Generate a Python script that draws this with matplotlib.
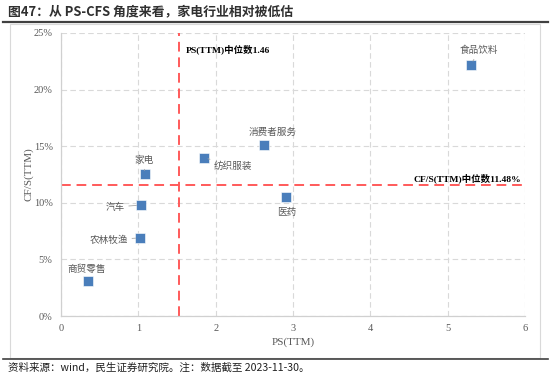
import matplotlib
matplotlib.use("Agg")
import matplotlib.pyplot as plt
from matplotlib.lines import Line2D
from matplotlib.patches import Rectangle

plt.rcParams['font.family'] = ['Noto Sans CJK SC', 'DejaVu Sans']

industries = ["商贸零售", "农林牧渔", "汽车", "家电", "纺织服装", "消费者服务", "医药", "食品饮料"]
ps_ttm = [0.35, 1.02, 1.03, 1.08, 1.85, 2.62, 2.91, 5.30]
cfs_ttm = [3.1, 6.9, 9.8, 12.5, 14.0, 15.1, 10.5, 22.2]
ps_median = 1.52
cfs_median = 11.6
ps_median_label = "PS(TTM)中位数1.46"
cfs_median_label = "CF/S(TTM)中位数11.48%"
x_ticks = [0, 1, 2, 3, 4, 5, 6]
y_ticks = [0, 5, 10, 15, 20, 25]
title = "图47：从 PS-CFS 角度来看，家电行业相对被低估"
source = "资料来源：wind，民生证券研究院。注：数据截至 2023-11-30。"

PX = 0.72  # points per pixel
# label offsets in pixels (dx, dy up), alignment, leader line
label_cfg = {
    "商贸零售": ((-1, 12), 'center', False),
    "农林牧渔": ((-12, -2), 'right', True),
    "汽车": ((-16, -2), 'right', True),
    "家电": ((0, 14), 'center', True),
    "纺织服装": ((10, -9), 'left', True),
    "消费者服务": ((9, 13), 'center', False),
    "医药": ((1, -15), 'center', False),
    "食品饮料": ((8, 14), 'center', True),
}

fig = plt.figure(figsize=(5.5, 3.77), dpi=100)
W, H = 550, 377

# frame & lines
fig.add_artist(Rectangle((10 / W, 1 - 358 / H), 530 / W, 334 / H, transform=fig.transFigure,
                         fill=False, edgecolor='#d9d9d9', lw=0.8))
fig.add_artist(Line2D([3 / W, 548 / W], [1 - 22 / H, 1 - 22 / H], transform=fig.transFigure,
                      color='#404040', lw=1.6))
fig.add_artist(Line2D([3 / W, 548 / W], [1 - 359 / H, 1 - 359 / H], transform=fig.transFigure,
                      color='#404040', lw=1.2))
fig.text(8 / W, 1 - 11 / H, title, fontsize=9.3, fontweight='bold', color='#303030', va='center')
fig.text(8 / W, 1 - 368 / H, source, fontsize=7.6, color='#202020', va='center')

ax = fig.add_axes([61 / W, 1 - 316 / H, 464 / W, 283 / H])
ax.set_xlim(0, 6)
ax.set_ylim(0, 25)
ax.set_xticks(x_ticks)
ax.set_yticks(y_ticks)
ax.set_xticklabels([str(v) for v in x_ticks])
ax.set_yticklabels([f"{v}%" for v in y_ticks])
serif = ['Liberation Serif', 'DejaVu Serif']
for lab in ax.get_xticklabels() + ax.get_yticklabels():
    lab.set_fontfamily(serif)
    lab.set_fontsize(7.5)
    lab.set_color('#595959')
ax.tick_params(length=0, pad=6)
ax.grid(True, color='#d9d9d9', linestyle=(0, (5, 3)), lw=0.8)
ax.set_axisbelow(True)
for s in ['top', 'right']:
    ax.spines[s].set_visible(False)
for s in ['left', 'bottom']:
    ax.spines[s].set_color('#d0d0d0')
    ax.spines[s].set_linewidth(0.9)
ax.set_xlabel("PS(TTM)", fontfamily=serif, fontsize=8, color='#595959', labelpad=3)
ax.set_ylabel("CF/S(TTM)", fontfamily=serif, fontsize=8, color='#595959', labelpad=0)

ax.axvline(ps_median, color='#ff5a5a', lw=1.4, linestyle=(0, (5, 3)), zorder=2)
ax.axhline(cfs_median, color='#ff5a5a', lw=1.4, linestyle=(0, (5, 3)), zorder=2)

ax.scatter(ps_ttm, cfs_ttm, marker='s', s=42, color='#4a7ebb', edgecolor='white', lw=0.4, zorder=4)

for name, x, y in zip(industries, ps_ttm, cfs_ttm):
    (dx, dy), ha, leader = label_cfg[name]
    ax.annotate(name, (x, y), xytext=(dx * PX, dy * PX), textcoords='offset points', ha=ha, va='center',
                fontsize=6.9, color='#595959', zorder=5,
                arrowprops=dict(arrowstyle='-', color='#a6a6a6', lw=0.6, shrinkA=1, shrinkB=3) if leader else None)

ax.text(ps_median + 0.09, 23.6, ps_median_label, fontsize=6.8, fontweight='bold', color='black',
        family=['Liberation Serif', 'Noto Sans CJK SC'], va='center', ha='left')
ax.text(5.95, 12.2, cfs_median_label, fontsize=6.8, fontweight='bold', color='black',
        family=['Liberation Serif', 'Noto Sans CJK SC'], va='center', ha='right')

fig.savefig("out.png", dpi=100)
